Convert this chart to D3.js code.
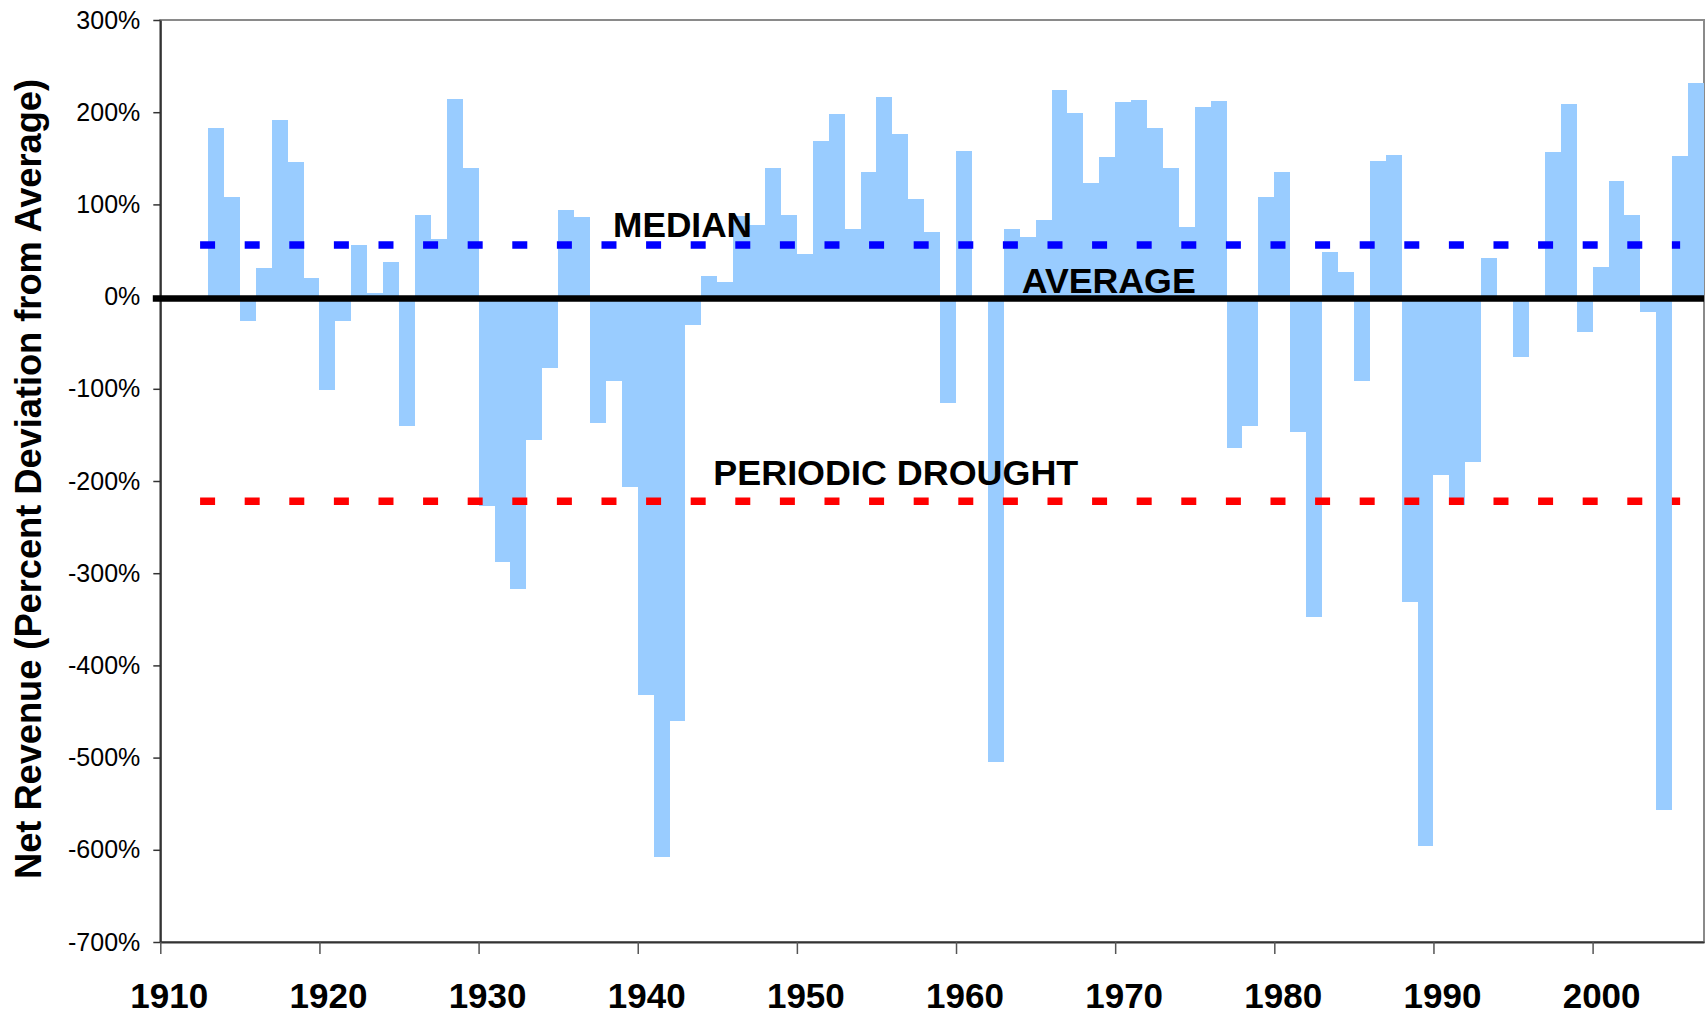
<!DOCTYPE html>
<html>
<head>
<meta charset="utf-8">
<title>Net Revenue Deviation from Average</title>
<script src="https://cdn.jsdelivr.net/npm/d3@7/dist/d3.min.js"></script>
<style>
  html, body { margin: 0; padding: 0; background: #ffffff; }
  svg { display: block; }
  text { font-family: "Liberation Sans", Arial, Helvetica, sans-serif; }
</style>
</head>
<body>
<svg id="chart" width="1707" height="1016"></svg>
<script>
// Annual net revenue, percent deviation from the long-run average (one bar per year)
const firstYear = 1913;
const revenueDeviation = [
  183, 108, -27, 31, 191, 146, 20,                       // 1913-1919
  -101, -27, 56, 4, 37, -140, 88, 62, 214, 139,          // 1920s
  -227, -288, -317, -156, -77, 94, 86, -137, -92, -206,  // 1930s
  -432, -608, -460, -31, 22, 16, 87, 78, 140, 89,        // 1940s
  46, 169, 198, 73, 135, 217, 176, 106, 70, -115,        // 1950s
  158, 0, -505, 73, 65, 83, 224, 199, 123, 151,          // 1960s
  211, 213, 183, 139, 75, 206, 212, -164, -140, 108,     // 1970s
  135, -147, -348, 48, 27, -91, 147, 154, -331, -596,    // 1980s
  -194, -226, -179, 42, 0, -66, 0, 157, 209, -38,        // 1990s
  32, 125, 89, -17, -557, 153, 232                       // 2000-2006
];
const years = revenueDeviation.map((_, i) => firstYear + i);

// Reference levels
const averageLevel = 0;
const medianLevel = 56;
const droughtLevel = -222;
const referenceSpan = [1912.5, 2005.5];

// Axis ticks
const yTicks = [300, 200, 100, 0, -100, -200, -300, -400, -500, -600, -700];
const xTicks = [1910, 1920, 1930, 1940, 1950, 1960, 1970, 1980, 1990, 2000];
const yTitle = "Net Revenue (Percent Deviation from Average)";

const svg = d3.select("#chart");
const plot = { left: 160.3, right: 1704, top: 20, bottom: 942 };

const x = d3.scaleLinear().domain([1910, 2007]).range([plot.left, plot.right]);
const y = d3.scaleLinear().domain([-700, 300]).range([plot.bottom, plot.top]);

// Plot-area frame
svg.append("rect")
  .attr("x", plot.left).attr("y", plot.top)
  .attr("width", plot.right - plot.left).attr("height", plot.bottom - plot.top)
  .attr("fill", "#ffffff").attr("stroke", "#8a8a8a").attr("stroke-width", 2);

// Yearly bars, each spanning its full year
svg.append("g").selectAll("rect")
  .data(years.map((yr, i) => ({ yr, v: revenueDeviation[i] })))
  .join("rect")
  .attr("x", d => x(d.yr))
  .attr("width", d => x(d.yr + 1) - x(d.yr))
  .attr("y", d => y(Math.max(0, d.v)))
  .attr("height", d => Math.abs(y(d.v) - y(0)))
  .attr("fill", "#99ccff")
  .attr("shape-rendering", "crispEdges");

// Dashed reference lines
function dashedLevel(level, color) {
  svg.append("line")
    .attr("x1", x(referenceSpan[0])).attr("x2", x(referenceSpan[1]))
    .attr("y1", y(level)).attr("y2", y(level))
    .attr("stroke", color).attr("stroke-width", 7.5)
    .attr("stroke-dasharray", "15,29.6");
}
dashedLevel(medianLevel, "#0000ff");
dashedLevel(droughtLevel, "#ff0000");

// Y axis
const yAxis = svg.append("g")
  .attr("transform", `translate(${plot.left},0)`)
  .call(d3.axisLeft(y).tickValues(yTicks).tickFormat(d => d + "%")
    .tickSize(7).tickSizeOuter(0).tickPadding(13));
yAxis.select(".domain").attr("stroke", "#333").attr("stroke-width", 2);
yAxis.selectAll(".tick line").attr("stroke", "#333").attr("stroke-width", 1.5);
yAxis.selectAll(".tick text")
  .attr("font-size", 25).attr("fill", "#000")
  .style("font-family", "'Liberation Sans', Arial, sans-serif");

// X axis
const xAxis = svg.append("g")
  .attr("transform", `translate(0,${plot.bottom})`)
  .call(d3.axisBottom(x).tickValues(xTicks).tickFormat(d3.format("d"))
    .tickSize(12).tickSizeOuter(0));
xAxis.select(".domain").attr("stroke", "#333").attr("stroke-width", 2);
xAxis.selectAll(".tick line").attr("stroke", "#555").attr("stroke-width", 1.5);
xAxis.selectAll(".tick text")
  .attr("font-size", 35).attr("font-weight", "bold").attr("fill", "#000")
  .attr("x", 8.5).attr("y", 66).attr("dy", null)
  .style("font-family", "'Liberation Sans', Arial, sans-serif");

// Average line (solid, heavy)
svg.append("line")
  .attr("x1", plot.left - 7.5).attr("x2", plot.right)
  .attr("y1", y(averageLevel) + 2).attr("y2", y(averageLevel) + 2)
  .attr("stroke", "#000").attr("stroke-width", 6.5);

// Line labels
const labelStyle = sel => sel
  .attr("font-size", 35).attr("font-weight", "bold").attr("fill", "#000")
  .attr("lengthAdjust", "spacingAndGlyphs");
svg.append("text").call(labelStyle)
  .attr("x", x(1938.45)).attr("y", y(medianLevel) - 8)
  .attr("textLength", 139).text("MEDIAN");
svg.append("text").call(labelStyle)
  .attr("x", x(1964.13)).attr("y", y(averageLevel) - 4)
  .attr("textLength", 174).text("AVERAGE");
svg.append("text").call(labelStyle)
  .attr("x", x(1944.75)).attr("y", y(droughtLevel) - 16.5)
  .attr("textLength", 365).text("PERIODIC DROUGHT");

// Y-axis title
svg.append("text")
  .attr("transform", "translate(41,479) rotate(-90)")
  .attr("text-anchor", "middle")
  .attr("font-size", 36).attr("font-weight", "bold").attr("fill", "#000")
  .attr("textLength", 800).attr("lengthAdjust", "spacingAndGlyphs")
  .text(yTitle);
</script>
</body>
</html>
